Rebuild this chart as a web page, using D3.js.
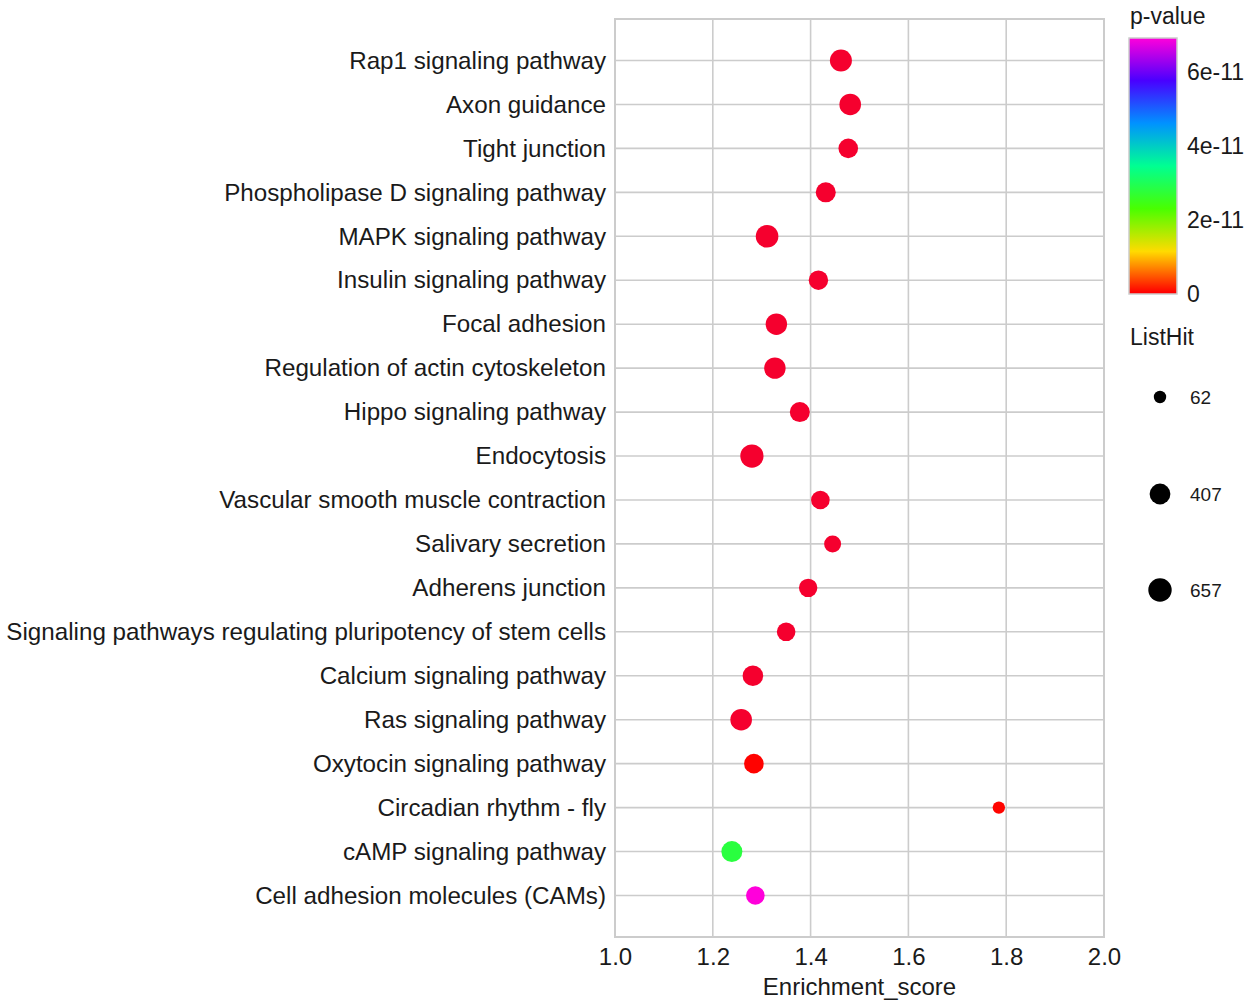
<!DOCTYPE html>
<html>
<head>
<meta charset="utf-8">
<script src="https://cdn.jsdelivr.net/npm/d3@7"></script>
<style>
  body { margin: 0; background: #fff; }
  text { font-family: "Liberation Sans", Arial, sans-serif; fill: #1a1a1a; }
</style>
</head>
<body>
<div id="chart"></div>
<script>
// pathways, top to bottom
let pathways = [
  "Rap1 signaling pathway",
  "Axon guidance",
  "Tight junction",
  "Phospholipase D signaling pathway",
  "MAPK signaling pathway",
  "Insulin signaling pathway",
  "Focal adhesion",
  "Regulation of actin cytoskeleton",
  "Hippo signaling pathway",
  "Endocytosis",
  "Vascular smooth muscle contraction",
  "Salivary secretion",
  "Adherens junction",
  "Signaling pathways regulating pluripotency of stem cells",
  "Calcium signaling pathway",
  "Ras signaling pathway",
  "Oxytocin signaling pathway",
  "Circadian rhythm - fly",
  "cAMP signaling pathway",
  "Cell adhesion molecules (CAMs)"
];
let enrichScore = [1.462, 1.481, 1.477, 1.431, 1.311, 1.416, 1.330, 1.327, 1.378, 1.280,
                   1.420, 1.445, 1.395, 1.350, 1.282, 1.258, 1.284, 1.785, 1.239, 1.287];
let listHit = [515, 478, 317, 346, 574, 303, 460, 460, 346, 640,
               251, 166, 239, 251, 393, 478, 317, 62, 426, 251];
let pValue = [1e-15, 1e-15, 1e-15, 1e-15, 1e-15, 1e-15, 1e-15, 1e-15, 1e-15, 1e-15,
              1e-15, 1e-15, 1e-15, 1e-15, 1e-15, 1e-15, 5e-13, 6e-13, 2.8e-11, 6.9e-11];

let xTicks = [1.0, 1.2, 1.4, 1.6, 1.8, 2.0];
let pTicks = [0, 2e-11, 4e-11, 6e-11];
let pTickLabels = ["0", "2e-11", "4e-11", "6e-11"];
let sizeBreaks = [62, 407, 657];

// rainbow(7) stops, first stop a touch crimson for the tiniest p-values
let pStops = [0, 4e-13, 6.9e-11 / 6, 6.9e-11 * 2 / 6, 6.9e-11 * 3 / 6, 6.9e-11 * 4 / 6, 6.9e-11 * 5 / 6, 6.9e-11];
let pColors = ["#F5002E", "#FF0000", "#FFDB00", "#49FF00", "#00FF92", "#0092FF", "#4900FF", "#FF00DB"];

let data = pathways.map((d, i) => ({
  name: d, score: enrichScore[i], hit: listHit[i], p: pValue[i]
}));

let width = 1248, height = 1007;
let margin = { left: 615, right: 144, top: 19, bottom: 70 };
let pw = width - margin.left - margin.right;
let ph = height - margin.top - margin.bottom;

let svg = d3.select("#chart").append("svg")
  .attr("width", width)
  .attr("height", height);

let x = d3.scaleLinear().domain([1.0, 2.0]).range([margin.left, margin.left + pw]);
let y = d3.scalePoint().domain(pathways).range([margin.top, margin.top + ph]).padding(0.944);
let color = d3.scaleLinear().domain(pStops).range(pColors);
let sizeNorm = d3.scaleLinear().domain([62, 657]).range([0, 1]).clamp(true);
let radius = d3.scaleLinear().domain([0, 1]).range([6.2, 11.7]);
let r = v => radius(Math.sqrt(sizeNorm(v)));

// grid
let grid = svg.append("g");
grid.selectAll(".vgrid")
  .data(xTicks)
  .enter()
  .append("line")
  .attr("x1", d => x(d)).attr("x2", d => x(d))
  .attr("y1", margin.top).attr("y2", margin.top + ph)
  .attr("stroke", "#cccccc").attr("stroke-width", 1.6);
grid.selectAll(".hgrid")
  .data(pathways)
  .enter()
  .append("line")
  .attr("x1", margin.left).attr("x2", margin.left + pw)
  .attr("y1", d => y(d)).attr("y2", d => y(d))
  .attr("stroke", "#cccccc").attr("stroke-width", 1.6);
svg.append("rect")
  .attr("x", margin.left).attr("y", margin.top)
  .attr("width", pw).attr("height", ph)
  .attr("fill", "none").attr("stroke", "#cccccc").attr("stroke-width", 2);

// axes
let xAxis = svg.append("g")
  .attr("transform", `translate(0,${margin.top + ph})`)
  .call(d3.axisBottom(x).tickValues(xTicks).tickFormat(d3.format(".1f")).tickSize(0).tickPadding(11));
xAxis.select(".domain").remove();
xAxis.selectAll("text").style("font-size", "24px").attr("fill", "#1a1a1a");

let yAxis = svg.append("g")
  .attr("transform", `translate(${margin.left},0)`)
  .call(d3.axisLeft(y).tickSize(0).tickPadding(9));
yAxis.select(".domain").remove();
yAxis.selectAll("text").style("font-size", "24.2px").attr("fill", "#1a1a1a");

svg.append("text")
  .attr("x", margin.left + pw / 2)
  .attr("y", 995)
  .attr("text-anchor", "middle")
  .style("font-size", "24px")
  .text("Enrichment_score");

// points
svg.append("g").selectAll("circle")
  .data(data)
  .enter()
  .append("circle")
  .attr("cx", d => x(d.score))
  .attr("cy", d => y(d.name))
  .attr("r", d => r(d.hit))
  .attr("fill", d => color(d.p));

// colour legend
let barX = 1129, barW = 48, barTop = 38, barBottom = 294;
let pScale = d3.scaleLinear().domain([0, 6.9e-11]).range([barBottom, barTop]);
let defs = svg.append("defs");
let grad = defs.append("linearGradient")
  .attr("id", "pgrad")
  .attr("x1", 0).attr("y1", 1).attr("x2", 0).attr("y2", 0);
grad.selectAll("stop")
  .data(pStops.slice(1))
  .enter()
  .append("stop")
  .attr("offset", d => d / 6.9e-11)
  .attr("stop-color", d => color(d));
svg.append("text")
  .attr("x", 1130).attr("y", 24)
  .style("font-size", "23px")
  .text("p-value");
svg.append("rect")
  .attr("x", barX).attr("y", barTop)
  .attr("width", barW).attr("height", barBottom - barTop)
  .attr("fill", "url(#pgrad)")
  .attr("stroke", "#cccccc").attr("stroke-width", 1.5);
svg.append("g").selectAll("text")
  .data(pTicks)
  .enter()
  .append("text")
  .attr("x", 1187)
  .attr("y", d => pScale(d))
  .attr("dy", "0.36em")
  .style("font-size", "23px")
  .text((d, i) => pTickLabels[i]);

// size legend
svg.append("text")
  .attr("x", 1130).attr("y", 345)
  .style("font-size", "23px")
  .text("ListHit");
let sizeY = [397, 494, 590];
let sizeG = svg.append("g").selectAll("g")
  .data(sizeBreaks)
  .enter()
  .append("g")
  .attr("transform", (d, i) => `translate(1160,${sizeY[i]})`);
sizeG.append("circle")
  .attr("r", d => r(d))
  .attr("fill", "#000");
sizeG.append("text")
  .attr("x", 30)
  .attr("dy", "0.36em")
  .style("font-size", "19px")
  .text(d => d);
</script>
</body>
</html>
